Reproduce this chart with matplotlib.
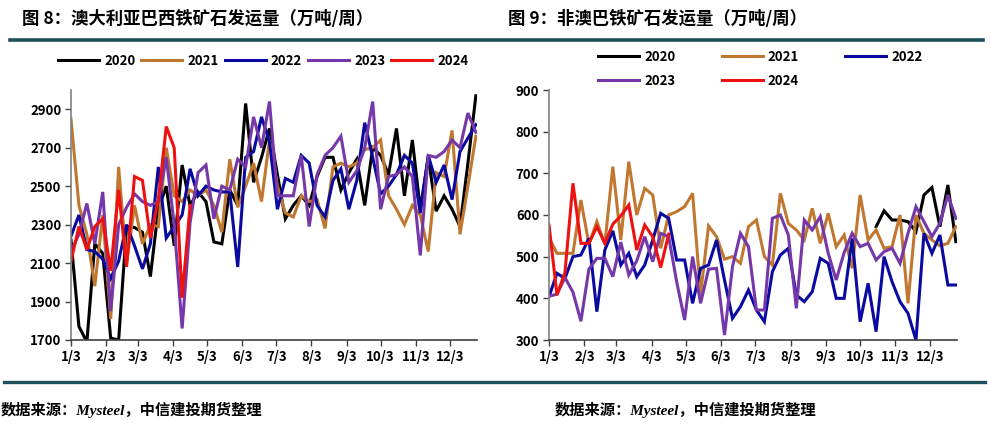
import numpy as np
import pandas as pd
import matplotlib
matplotlib.use("Agg")
import matplotlib.pyplot as plt
from matplotlib.lines import Line2D

plt.rcParams['font.family'] = ['Noto Sans CJK SC', 'DejaVu Sans']

# ---------------- data ----------------
years = ['2020', '2021', '2022', '2023', '2024']
colors = ['#000000', '#C07830', '#0A0AA0', '#7638A8', '#EE1111']

week_dates = pd.date_range('2021-01-03', periods=52, freq='7D')
tick_dates = pd.date_range('2021-01-01', periods=12, freq='MS') + pd.Timedelta(days=2)
tick_labels = ['1/3', '2/3', '3/3', '4/3', '5/3', '6/3', '7/3', '8/3', '9/3', '10/3', '11/3', '12/3']

left_2020 = [2220, 1770, 1690, 2200, 2150, 1710, 1700, 2290, 2285, 2260, 2030, 2380, 2500, 2190,
             2610, 2400, 2470, 2420, 2210, 2200, 2480, 2400, 2930, 2520, 2650, 2800, 2560, 2330,
             2400, 2450, 2400, 2550, 2650, 2650, 2480, 2570, 2640, 2400, 2700, 2660, 2560, 2800,
             2450, 2740, 2380, 2650, 2370, 2450, 2380, 2290, 2620, 2970]
left_2021 = [2850, 2400, 2250, 1980, 2350, 1810, 2600, 2100, 2400, 2200, 2300, 2290, 2700, 2450,
             2420, 2480, 2450, 2480, 2400, 2260, 2640, 2390, 2500, 2620, 2420, 2740, 2500, 2360,
             2340, 2450, 2420, 2430, 2280, 2600, 2620, 2600, 2620, 2690, 2700, 2740, 2450, 2380,
             2300, 2400, 2350, 2160, 2570, 2550, 2790, 2250, 2500, 2760]
left_2022 = [2240, 2350, 2170, 2160, 2120, 2020, 2110, 2300, 2190, 2070, 2200, 2600, 2230, 2290,
             2350, 2590, 2450, 2500, 2480, 2470, 2470, 2080, 2650, 2680, 2860, 2730, 2380, 2540,
             2520, 2660, 2620, 2400, 2340, 2530, 2590, 2380, 2530, 2830, 2650, 2460, 2500, 2560,
             2660, 2620, 2360, 2660, 2520, 2610, 2430, 2680, 2750, 2820]
left_2023 = [2160, 2250, 2410, 2200, 2470, 1850, 2300, 2390, 2460, 2420, 2400, 2420, 2650, 2300,
             1760, 2310, 2570, 2610, 2330, 2500, 2480, 2640, 2600, 2860, 2700, 2940, 2450, 2450,
             2450, 2660, 2290, 2560, 2660, 2700, 2760, 2520, 2580, 2700, 2940, 2380, 2550, 2560,
             2600, 2550, 2140, 2660, 2650, 2680, 2740, 2700, 2880, 2780]
left_2024 = [2110, 2290, 2170, 2290, 2330, 2060, 2480, 2080, 2550, 2530, 2230, 2430, 2810, 2700,
             1920, 2400]

nan = np.nan
right_2020 = [nan] * 41 + [572, 610, 588, 588, 584, 560, 648, 666, 572, 672, 536]
right_2021 = [545, 508, 508, 508, 636, 530, 584, 530, 716, 540, 728, 600, 664, 648, 520, 600,
              608, 620, 652, 410, 574, 548, 494, 500, 484, 572, 588, 500, 480, 652, 580, 564,
              540, 616, 532, 604, 524, 552, 472, 648, 540, 564, 520, 524, 600, 388, 600, 556,
              540, 526, 532, 572]
right_2022 = [404, 460, 448, 500, 504, 544, 368, 516, 562, 480, 508, 452, 480, 540, 604, 592,
              492, 492, 388, 472, 480, 540, 444, 352, 380, 420, 372, 344, 464, 504, 520, 408,
              392, 416, 496, 484, 400, 400, 544, 344, 436, 320, 500, 440, 392, 364, 300, 556,
              508, 552, 432, 432]
right_2023 = [405, 410, 450, 415, 345, 470, 496, 496, 452, 535, 456, 490, 548, 488, 556, 548,
              440, 348, 500, 388, 470, 472, 312, 476, 556, 524, 372, 372, 592, 600, 552, 376,
              588, 564, 596, 508, 444, 510, 556, 524, 532, 492, 512, 520, 484, 556, 620, 584,
              548, 580, 648, 592]
right_2024 = [576, 408, 462, 676, 532, 532, 572, 532, 578, 598, 624, 516, 576, 548, 474, 554]

left_series = [left_2020, left_2021, left_2022, left_2023, left_2024]
right_series = [right_2020, right_2021, right_2022, right_2023, right_2024]

left_title = '图 8：澳大利亚巴西铁矿石发运量（万吨/周）'
right_title = '图 9：非澳巴铁矿石发运量（万吨/周）'
source = '数据来源：Mysteel，中信建投期货整理'

# ---------------- figure ----------------
W, H = 991, 430
fig = plt.figure(figsize=(W / 100, H / 100), dpi=100)

def fx(px):
    return px / W

def fy(py):
    return 1 - py / H

xpos = week_dates.dayofyear.values - 1
tpos = tick_dates.dayofyear.values - 1


def make_axes(rect, series, ylim, yticks):
    ax = fig.add_axes(rect)
    handles = []
    for vals, c, y in zip(series, colors, years):
        v = np.array(vals, dtype=float)
        h, = ax.plot(xpos[:len(v)], v, color=c, lw=2.2, label=y, solid_joinstyle='miter')
        handles.append(h)
    ax.set_xlim(xpos[0], xpos[-1] + 1)
    ax.set_ylim(*ylim)
    ax.set_yticks(yticks)
    ax.set_xticks(tpos)
    ax.set_xticklabels(tick_labels)
    for s in ['top', 'right']:
        ax.spines[s].set_visible(False)
    ax.spines['left'].set_color('#808080')
    ax.spines['bottom'].set_color('#404040')
    ax.spines['left'].set_linewidth(1.2)
    ax.spines['bottom'].set_linewidth(1.2)
    ax.tick_params(axis='both', direction='out', length=4, width=1, colors='#404040',
                   labelcolor='black', labelsize=9.5, pad=3)
    for lab in ax.get_xticklabels() + ax.get_yticklabels():
        lab.set_fontweight('bold')
    return ax, handles


axL, hL = make_axes([fx(71), fy(340), fx(477) - fx(71), fy(90) - fy(340)],
                    left_series, (1700, 3000), list(range(1700, 3000, 200)))
axR, hR = make_axes([fx(549), fy(340), fx(957) - fx(549), fy(90) - fy(340)],
                    right_series, (300, 900), list(range(300, 1000, 100)))

# legends
legL = fig.legend(handles=hL, labels=years, loc='center left',
                  bbox_to_anchor=(fx(58), fy(61)), ncol=5, frameon=False,
                  handlelength=3.1, handletextpad=0.4, columnspacing=0.45,
                  borderpad=0, borderaxespad=0,
                  prop={'weight': 'bold', 'size': 9.5})
order = [0, 3, 1, 4, 2]   # row-major layout: 2020 2021 2022 / 2023 2024
legR = fig.legend(handles=[hR[i] for i in order], labels=[years[i] for i in order],
                  loc='upper left',
                  bbox_to_anchor=(fx(598), fy(50)), ncol=3, frameon=False,
                  handlelength=3.1, handletextpad=0.4, columnspacing=3.5,
                  labelspacing=0.75, borderpad=0, borderaxespad=0,
                  prop={'weight': 'bold', 'size': 9.5})

# titles
fig.text(fx(22), fy(19), left_title, fontsize=12.5, fontweight='bold', va='center', ha='left')
fig.text(fx(508), fy(19), right_title, fontsize=12.5, fontweight='bold', va='center', ha='left')

# rules
rule_color = '#1F4E5C'
fig.add_artist(Line2D([fx(10), fx(983)], [fy(39.5), fy(39.5)], color=rule_color, lw=2.6))
fig.add_artist(Line2D([fx(4), fx(985)], [fy(382), fy(382)], color=rule_color, lw=2.4))

# sources
src_font = ['Liberation Serif', 'Noto Sans CJK SC']
fig.text(fx(1), fy(410), source, fontsize=11, fontweight='bold', style='italic',
         family=src_font, va='center', ha='left')
fig.text(fx(555), fy(410), source, fontsize=11, fontweight='bold', style='italic',
         family=src_font, va='center', ha='left')

fig.savefig('out.png', dpi=100)
